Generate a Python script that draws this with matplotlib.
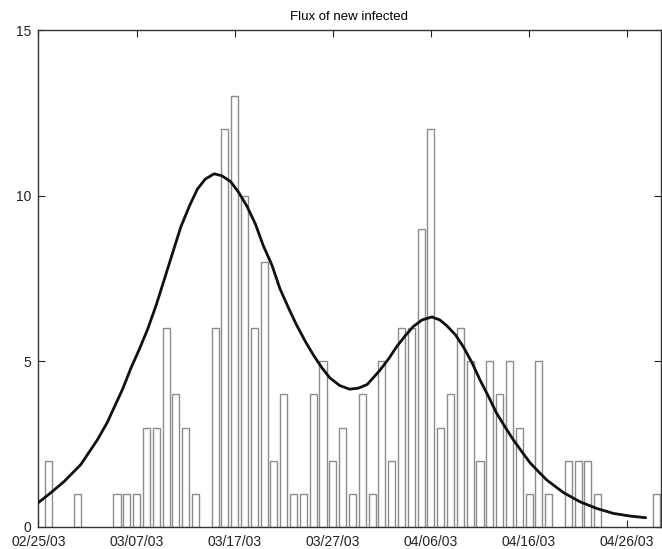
import matplotlib
matplotlib.use("Agg")
import matplotlib.pyplot as plt
import numpy as np

# Daily new infected counts, day 0 = 02/25/03
days = list(range(0, 64))
counts = [0, 2, 0, 0, 1, 0, 0, 0, 1, 1,
          1, 3, 3, 6, 4, 3, 1, 0, 6, 12,
          13, 10, 6, 8, 2, 4, 1, 1, 4, 5,
          2, 3, 1, 4, 1, 5, 2, 6, 6, 9,
          12, 3, 4, 6, 5, 2, 5, 4, 5, 3,
          1, 5, 1, 0, 2, 2, 2, 1, 0, 0,
          0, 0, 0, 1]

# Fitted flux curve
curve_days = [0.0, 1.2, 2.6, 4.3, 6.0, 7.0, 7.7, 8.6, 9.4, 10.3,
              11.1, 12.0, 12.8, 13.7, 14.5, 15.4, 16.2, 17.0, 17.9, 18.7,
              19.6, 20.4, 21.25, 22.1, 22.9, 23.8, 24.6, 25.5, 26.3, 27.2,
              28.0, 28.9, 29.7, 30.7, 31.7, 32.6, 33.5, 34.8, 35.7, 36.5,
              37.4, 38.2, 39.1, 40.1, 40.9, 41.6, 42.5, 43.3, 44.2, 45.0,
              45.9, 46.7, 47.6, 48.4, 49.3, 50.1, 51.0, 51.8, 53.5, 55.2,
              56.9, 58.6, 60.3, 61.9]
curve_vals = [0.74, 1.02, 1.37, 1.88, 2.63, 3.15, 3.60, 4.18, 4.78, 5.38,
              5.95, 6.70, 7.45, 8.30, 9.05, 9.70, 10.20, 10.50, 10.66, 10.60,
              10.42, 10.10, 9.68, 9.15, 8.50, 7.90, 7.20, 6.60, 6.10, 5.60,
              5.20, 4.80, 4.50, 4.27, 4.16, 4.19, 4.30, 4.73, 5.08, 5.44,
              5.78, 6.05, 6.25, 6.34, 6.25, 6.08, 5.80, 5.44, 4.95, 4.44,
              3.92, 3.43, 3.00, 2.63, 2.26, 1.94, 1.66, 1.42, 1.04, 0.76,
              0.56, 0.41, 0.33, 0.28]

tick_days = [0, 10, 20, 30, 40, 50, 60]
tick_labels = ["02/25/03", "03/07/03", "03/17/03", "03/27/03",
               "04/06/03", "04/16/03", "04/26/03"]
y_ticks = [0, 5, 10, 15]

plt.rcParams['font.family'] = ['Liberation Sans', 'DejaVu Sans']

fig = plt.figure(figsize=(6.62, 5.49), dpi=100)
ax = fig.add_axes([38.0 / 662, 1 - 527.0 / 549, (660.5 - 38.0) / 662, (527.0 - 30.0) / 549])

d = np.array(days)
c = np.array(counts)
mask = c > 0
ax.bar(d[mask], c[mask], width=0.72, facecolor='white', edgecolor='#8c8c8c',
       linewidth=1.0, zorder=2)
ax.plot(curve_days, curve_vals, color='#111111', linewidth=2.0, zorder=3,
        solid_capstyle='round', solid_joinstyle='round')

ax.set_xlim(-0.05, 63.4)
ax.set_ylim(0, 15)
ax.set_xticks(tick_days)
ax.set_xticklabels(tick_labels, fontsize=10)
ax.set_yticks(y_ticks)
ax.set_yticklabels([str(v) for v in y_ticks], fontsize=10)
ax.tick_params(direction='in', length=5, width=0.8, top=True, right=True,
               colors='#222222')
ax.tick_params(axis='y', pad=5)
ax.tick_params(axis='x', pad=5.5)
for sp in ax.spines.values():
    sp.set_linewidth(1.0)
    sp.set_color('#333333')
ax.set_title("Flux of new infected", fontsize=9.5, pad=7)

fig.savefig("out.png", dpi=100)
